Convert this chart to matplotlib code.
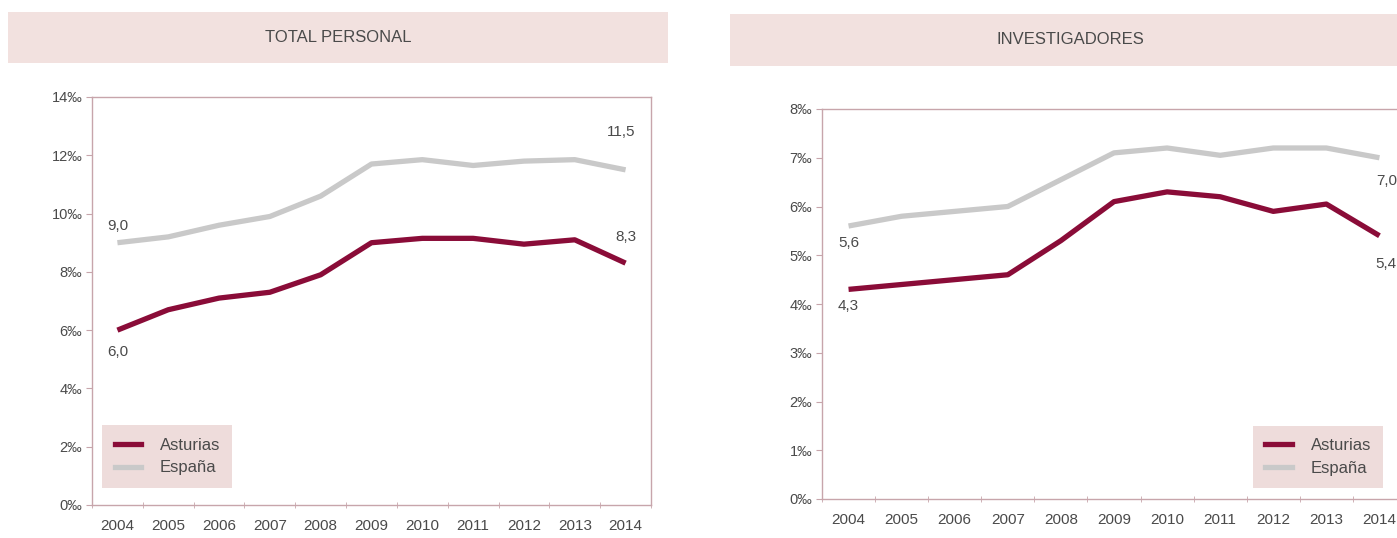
import matplotlib.pyplot as plt
from matplotlib.patches import Rectangle
from matplotlib.lines import Line2D

plt.rcParams['font.family'] = ['Liberation Sans', 'DejaVu Sans']

years = ['2004', '2005', '2006', '2007', '2008', '2009', '2010', '2011', '2012', '2013', '2014']

# total personal en I+D (por mil de la población ocupada)
total_asturias = [6.0, 6.7, 7.1, 7.3, 7.9, 9.0, 9.15, 9.15, 8.95, 9.1, 8.3]
total_espana = [9.0, 9.2, 9.6, 9.9, 10.6, 11.7, 11.85, 11.65, 11.8, 11.85, 11.5]

# investigadores
inv_asturias = [4.3, 4.4, 4.5, 4.6, 5.3, 6.1, 6.3, 6.2, 5.9, 6.05, 5.4]
inv_espana = [5.6, 5.8, 5.9, 6.0, 6.55, 7.1, 7.2, 7.05, 7.2, 7.2, 7.0]

ROJO = '#8a0c38'
GRIS = '#c9c9c9'
EJE = '#c7a5ab'
TEXTO = '#4a4a4a'
BANDA = '#f2e1df'
W, H = 1397.0, 538.0

fig = plt.figure(figsize=(13.97, 5.38), dpi=100)


def banda(x0, y0, x1, y1, titulo):
    fig.patches.append(Rectangle((x0 / W, 1 - y1 / H), (x1 - x0) / W, (y1 - y0) / H,
                                 transform=fig.transFigure, facecolor=BANDA,
                                 edgecolor='none', zorder=0))
    fig.text((x0 + x1) / 2 / W, 1 - (y0 + y1) / 2 / H, titulo, ha='center', va='center',
             fontsize=12, color=TEXTO)


def panel(px, asturias, espana, ymax, paso, etiquetas, leg_anchor):
    x0, y0, x1, y1 = px
    ax = fig.add_axes([x0 / W, 1 - y1 / H, (x1 - x0) / W, (y1 - y0) / H])
    x = list(range(len(years)))
    ax.plot(x, espana, color=GRIS, lw=3.8, solid_capstyle='butt')
    ax.plot(x, asturias, color=ROJO, lw=3.8, solid_capstyle='butt')
    ax.set_xlim(-0.5, len(years) - 0.5)
    ax.set_ylim(0, ymax)
    ax.set_xticks(x)
    ax.set_xticklabels(years)
    ax.set_xticks([i - 0.5 for i in range(len(years) + 1)], minor=True)
    ax.tick_params(axis='x', which='major', length=0, pad=10, labelsize=11, labelcolor=TEXTO)
    ax.tick_params(axis='x', which='minor', length=4, color=EJE, direction='inout')
    yt = list(range(0, ymax + 1, paso))
    ax.set_yticks(yt)
    ax.set_yticklabels([f'{v}‰' for v in yt])
    ax.tick_params(axis='y', length=4, color=EJE, labelsize=10.5, labelcolor=TEXTO, pad=3)
    for s in ax.spines.values():
        s.set_color(EJE)
        s.set_linewidth(1)
    for serie, i, texto, dx, dy in etiquetas:
        val = {'a': asturias, 'e': espana}[serie][i]
        ax.annotate(texto, (i, val), xytext=(dx, dy), textcoords='offset points',
                    ha='center', va='center', fontsize=11, color=TEXTO)
    handles = [Line2D([], [], color=ROJO, lw=3.8), Line2D([], [], color=GRIS, lw=3.8)]
    leg = ax.legend(handles, ['Asturias', 'España'], loc='lower left', bbox_to_anchor=leg_anchor,
                    frameon=True, fancybox=False, facecolor='#eedcdb', edgecolor='none',
                    framealpha=1, fontsize=12, handlelength=1.6, handletextpad=1.1,
                    borderpad=0.75, labelspacing=0.45, borderaxespad=0)
    for t in leg.get_texts():
        t.set_color(TEXTO)
    return ax


banda(8, 12, 668, 63, 'TOTAL PERSONAL')
banda(730, 14, 1410, 66, 'INVESTIGADORES')

panel((92, 97, 651, 505), total_asturias, total_espana, 14, 2,
      [('e', 0, '9,0', 0, 12), ('a', 0, '6,0', 0, -16),
       ('e', 10, '11,5', -3, 27), ('a', 10, '8,3', 0, 19)],
      (0.018, 0.042))

panel((822, 109, 1406, 499), inv_asturias, inv_espana, 8, 1,
      [('e', 0, '5,6', 0, -12), ('a', 0, '4,3', 0, -12),
       ('e', 10, '7,0', 5, -17), ('a', 10, '5,4', 5, -20)],
      (0.738, 0.028))

fig.savefig('out.png', dpi=100)
